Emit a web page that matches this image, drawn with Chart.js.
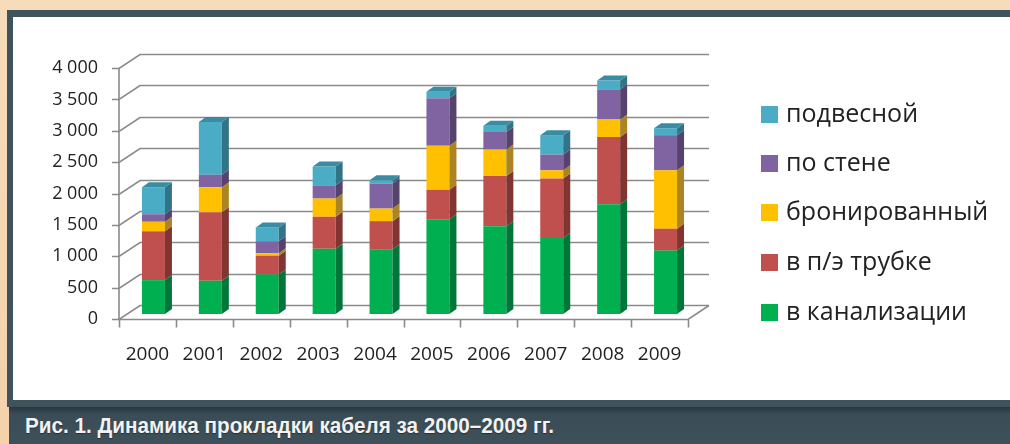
<!DOCTYPE html>
<html lang="ru">
<head>
<meta charset="utf-8">
<title>Динамика прокладки кабеля</title>
<script src="https://cdn.jsdelivr.net/npm/chart.js@4.4.0/dist/chart.umd.min.js"></script>
<style>
  * { margin:0; padding:0; box-sizing:border-box }
  body { width:1010px; height:444px; overflow:hidden; position:relative;
         background:linear-gradient(#f7dcbc, #f3d2ac); font-family:'Open Sans', sans-serif; }
  #frame { position:absolute; left:7px; top:10px; width:1003px; height:397px; background:#3f535d; }
  #inner { position:absolute; left:13px; top:17px; width:997px; height:383px; background:#fff; }
  #band { position:absolute; left:9px; top:407px; width:1001px; height:37px;
          background:linear-gradient(#28373f 0px, #3a4c56 7px, #3e515b 100%); }
  #caption { position:absolute; left:25px; top:413px; white-space:nowrap; color:#f2f2f2;
             font:bold 22px 'Liberation Sans', Arial, sans-serif; transform-origin:left top;
             text-shadow:0 1px 1px rgba(0,0,0,.4); }
  #chart { position:absolute; left:0; top:0; }
  #legend { position:absolute; left:761px; top:0; list-style:none; font-size:25px; color:#222; }
  #legend li { position:absolute; left:0; white-space:nowrap; line-height:30px; }
  #legend i { display:inline-block; width:17px; height:17px; margin-right:8px; vertical-align:-1px; }
</style>
</head>
<body>
<div id="frame"></div>
<div id="inner"></div>
<div id="band"></div>
<div id="caption">Рис. 1. Динамика прокладки кабеля за 2000–2009 гг.</div>
<canvas id="chart" width="1010" height="444"></canvas>
<ul id="legend"></ul>
<script>
const years = ['2000', '2001', '2002', '2003', '2004', '2005', '2006', '2007', '2008', '2009'];

// м, по видам прокладки (снизу вверх)
const kanal  = [540, 530, 630, 1040, 1030, 1510, 1400, 1210, 1750, 1010];
const tube   = [780, 1090, 300, 510, 450, 470, 800, 950, 1070, 350];
const armour = [150, 400, 40, 290, 200, 700, 420, 130, 280, 930];
const wall   = [120, 200, 190, 210, 400, 760, 280, 250, 480, 560];
const aerial = [430, 840, 220, 300, 50, 100, 100, 310, 140, 110];

const names  = ['в канализации', 'в п/э трубке', 'бронированный', 'по стене', 'подвесной'];
const fronts = ['#00b050', '#c0504d', '#ffc000', '#8064a2', '#4bacc6'];
const sides  = ['#00763a', '#803532', '#ab8424', '#55436d', '#327487'];
const topCol = '#3a8ca2';

const wallD  = { dx: 21, dy: -14 };  // глубина стенок
const shift  = { dx: 6,  dy: -5 };   // сдвиг столбцов вглубь
const barD   = { dx: 7,  dy: -5 };   // толщина столбца

const series = [kanal, tube, armour, wall, aerial];

const box3d = {
  id: 'box3d',
  beforeDatasetsDraw(chart) {
    const { ctx, chartArea: a, scales: { x, y } } = chart;
    ctx.save();
    ctx.strokeStyle = '#8a8a8a';
    ctx.lineWidth = 1.6;
    y.ticks.forEach(t => {
      const py = Math.round(y.getPixelForValue(t.value)) + 0.5;
      ctx.beginPath();
      ctx.moveTo(a.left - 7, py);
      ctx.lineTo(a.left, py);
      ctx.lineTo(a.left + wallD.dx, py + wallD.dy);
      ctx.lineTo(a.right + wallD.dx, py + wallD.dy);
      ctx.stroke();
    });
    const b = Math.round(a.bottom) + 0.5;
    ctx.beginPath();
    ctx.moveTo(a.left, a.top);
    ctx.lineTo(a.left, b);
    ctx.lineTo(a.right, b);
    ctx.lineTo(a.right + wallD.dx, b + wallD.dy);
    const n = years.length, step = (x.right - x.left) / n;
    for (let i = 0; i <= n; i++) {
      const px = Math.round(x.left + i * step) + 0.5;
      ctx.moveTo(px, b);
      ctx.lineTo(px, b + 8);
    }
    ctx.stroke();
    ctx.restore();
    ctx.save();
    ctx.translate(shift.dx, shift.dy);
  },
  afterDatasetsDraw(chart) {
    const ctx = chart.ctx;
    const last = chart.data.datasets.length - 1;
    chart.data.datasets.forEach((ds, di) => {
      chart.getDatasetMeta(di).data.forEach(bar => {
        const { x, y, base, width } = bar.getProps(['x', 'y', 'base', 'width'], true);
        const r = x + width / 2, l = x - width / 2;
        ctx.fillStyle = sides[di];
        ctx.beginPath();
        ctx.moveTo(r, base);
        ctx.lineTo(r + barD.dx, base + barD.dy);
        ctx.lineTo(r + barD.dx, y + barD.dy);
        ctx.lineTo(r, y);
        ctx.closePath();
        ctx.fill();
        if (di === last) {
          ctx.fillStyle = topCol;
          ctx.beginPath();
          ctx.moveTo(l, y);
          ctx.lineTo(r, y);
          ctx.lineTo(r + barD.dx, y + barD.dy);
          ctx.lineTo(l + barD.dx, y + barD.dy);
          ctx.closePath();
          ctx.fill();
        }
      });
    });
    ctx.restore();
  }
};

Chart.defaults.font.family = "'Open Sans', sans-serif";
Chart.defaults.color = '#222';

new Chart(document.getElementById('chart'), {
  type: 'bar',
  data: {
    labels: years,
    datasets: series.map((d, i) => ({
      label: names[i],
      data: d,
      backgroundColor: fronts[i],
      borderWidth: 0
    }))
  },
  options: {
    responsive: false,
    animation: false,
    events: [],
    categoryPercentage: 1,
    barPercentage: 0.404,
    layout: { padding: { left: 0, top: 68, right: 322, bottom: 0 } },
    plugins: { legend: { display: false }, tooltip: { enabled: false } },
    scales: {
      x: {
        stacked: true,
        grid: { display: false, drawTicks: false },
        border: { display: false },
        ticks: { font: { size: 19 }, padding: 24, maxRotation: 0 },
        afterFit: s => { s.height = 125; }
      },
      y: {
        stacked: true,
        min: 0, max: 4000,
        grid: { display: false, drawTicks: false },
        border: { display: false },
        ticks: {
          stepSize: 500,
          font: { size: 18 },
          padding: 21,
          callback: v => String(v).replace(/\B(?=(\d{3})+$)/g, ' ')
        },
        afterFit: s => { s.width = 119; }
      }
    }
  },
  plugins: [box3d]
});

// легенда: сверху вниз в обратном порядке
const legend = document.getElementById('legend');
const rowY = [112, 161, 210, 260, 310];
names.slice().reverse().forEach((name, k) => {
  const li = document.createElement('li');
  li.style.top = (rowY[k] - 15) + 'px';
  li.innerHTML = '<i style="background:' + fronts[names.length - 1 - k] + '"></i>' + name;
  legend.appendChild(li);
});

const cap = document.getElementById('caption');
cap.style.transform = 'scaleX(' + (529 / cap.getBoundingClientRect().width) + ')';
</script>
</body>
</html>
